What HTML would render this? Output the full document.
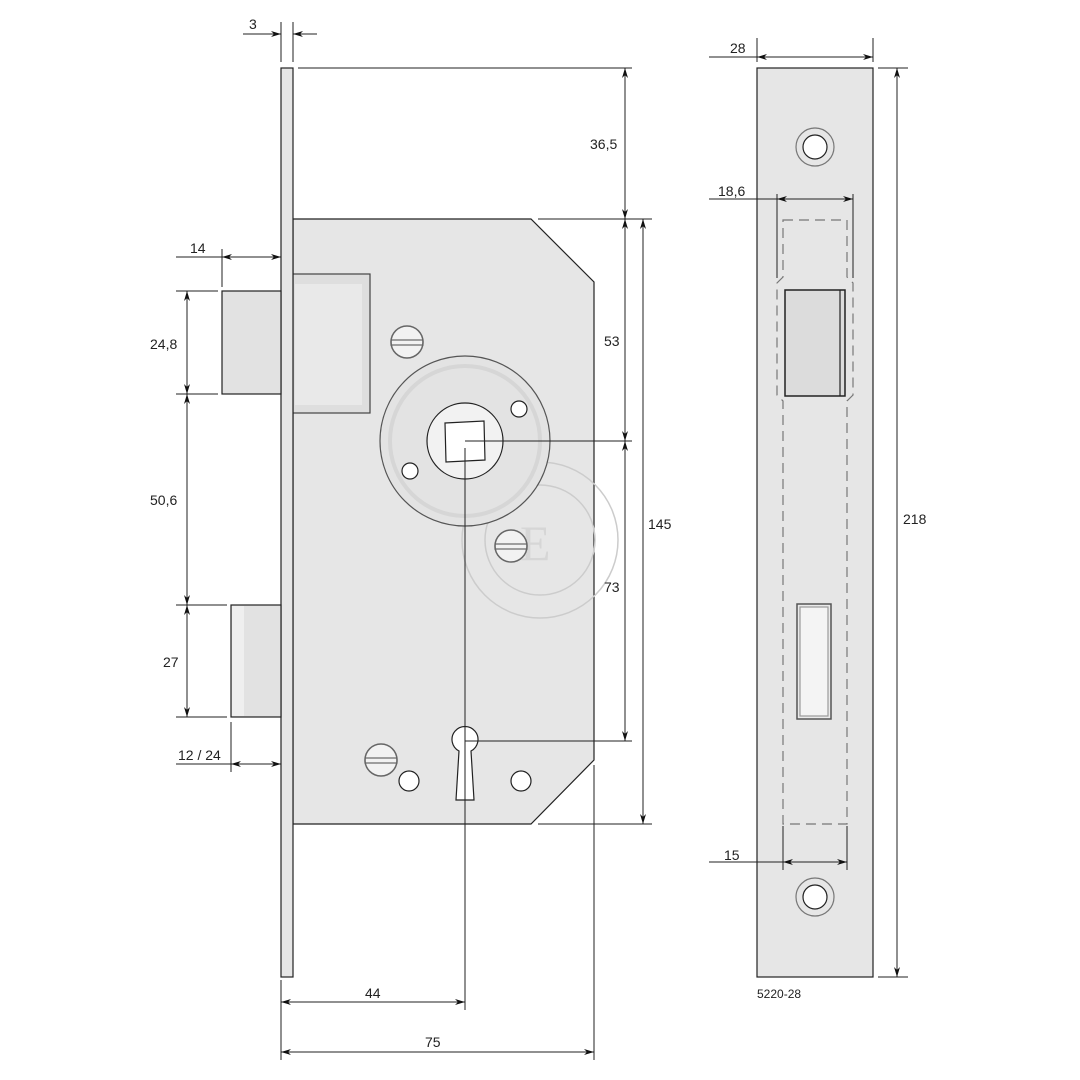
<!DOCTYPE html>
<html><head><style>html,body{margin:0;padding:0;background:#fff}svg{display:block}text{font-family:"Liberation Sans",sans-serif;font-size:14px;fill:#222}</style></head>
<body>
<svg width="1080" height="1080" viewBox="0 0 1080 1080" xmlns="http://www.w3.org/2000/svg">
<defs>
<marker id="a" viewBox="0 0 10 6" refX="10" refY="3" markerWidth="10" markerHeight="6" markerUnits="userSpaceOnUse" orient="auto-start-reverse"><path d="M0,0 L10,3 L0,6 L3,3 z" fill="#111"/></marker>
</defs>
<g stroke="#222" stroke-width="1.2" fill="none">
<!-- body -->
<polygon points="293,219 531,219 594,282 594,760 531,824 293,824" fill="#e6e6e6"/>
<rect x="293" y="274" width="77" height="139" fill="#dedede" stroke="#444"/>
<rect x="295" y="284" width="67" height="121" fill="#e9e9e9" stroke="none"/>
<!-- faceplate -->
<rect x="281" y="68" width="12" height="909" fill="#e6e6e6"/>
<!-- bolts -->
<rect x="222" y="291" width="59" height="103" fill="#e2e2e2"/>
<rect x="231" y="605" width="50" height="112" fill="#e2e2e2"/>
<rect x="232" y="606" width="12" height="110" fill="#efefef" stroke="none"/>
<!-- watermark -->
<g stroke="#ccc" stroke-width="1.5"><circle cx="540" cy="540" r="78"/><circle cx="540" cy="540" r="55"/></g>
<text x="520" y="560" style="font-size:50px;fill:#d6d6d6;font-family:'Liberation Serif',serif" stroke="none">E</text>
<!-- rosette -->
<circle cx="465" cy="441" r="85" fill="#e3e3e3" stroke="#555"/>
<circle cx="465" cy="441" r="75" fill="none" stroke="#d6d6d6" stroke-width="4"/>
<circle cx="465" cy="441" r="38" fill="#f2f2f2"/>
<polygon points="445,423 484,421 485,460 446,462" fill="#fff"/>
<circle cx="519" cy="409" r="8" fill="#fff"/>
<circle cx="410" cy="471" r="8" fill="#fff"/>
<!-- screws -->
<g fill="#f2f2f2" stroke="#666" stroke-width="1.5">
<circle cx="407" cy="342" r="16"/><circle cx="381" cy="760" r="16"/><circle cx="511" cy="546" r="16"/>
</g>
<g stroke="#666"><rect x="391" y="340" width="32" height="5" fill="none"/><rect x="365" y="758" width="32" height="5"/><rect x="495" y="544" width="32" height="5"/></g>
<circle cx="409" cy="781" r="10" fill="#fff"/>
<circle cx="521" cy="781" r="10" fill="#fff"/>
<!-- keyhole -->
<path d="M459,751 A13,13 0 1 1 471,751 L474,800 L456,800 Z" fill="#fff"/>
<!-- right plate -->
<rect x="757" y="68" width="116" height="909" fill="#e6e6e6"/>
<circle cx="815" cy="147" r="19" fill="#e6e6e6" stroke="#777"/><circle cx="815" cy="147" r="12" fill="#fff"/>
<circle cx="815" cy="897" r="19" fill="#e6e6e6" stroke="#777"/><circle cx="815" cy="897" r="12" fill="#fff"/>
<path d="M783,220 L847,220 L847,277 L853,283 L853,395 L847,401 L847,824 L783,824 L783,401 L777,395 L777,283 L783,277 Z" stroke="#777" stroke-dasharray="10,6"/>
<rect x="785" y="290" width="60" height="106" fill="#dcdcdc" stroke-width="1.5"/>
<line x1="840" y1="290" x2="840" y2="396"/>
<rect x="797" y="604" width="34" height="115" fill="#eaeaea" stroke="#555" stroke-width="1.5"/>
<rect x="800" y="607" width="28" height="109" fill="#f4f4f4" stroke="#999"/>
<!-- dimension & leader lines -->
<g stroke-width="1">
<line x1="281" y1="22" x2="281" y2="62"/><line x1="293" y1="22" x2="293" y2="62"/>
<line x1="243" y1="34" x2="281" y2="34" marker-end="url(#a)"/><line x1="317" y1="34" x2="293" y2="34" marker-end="url(#a)"/>
<line x1="298" y1="68" x2="632" y2="68"/>
<line x1="538" y1="219" x2="652" y2="219"/>
<line x1="625" y1="68" x2="625" y2="219" marker-start="url(#a)" marker-end="url(#a)"/>
<line x1="625" y1="219" x2="625" y2="441" marker-start="url(#a)" marker-end="url(#a)"/>
<line x1="625" y1="441" x2="625" y2="741" marker-start="url(#a)" marker-end="url(#a)"/>
<line x1="643" y1="219" x2="643" y2="824" marker-start="url(#a)" marker-end="url(#a)"/>
<line x1="465" y1="441" x2="632" y2="441"/>
<line x1="465" y1="741" x2="632" y2="741"/>
<line x1="538" y1="824" x2="652" y2="824"/>
<line x1="465" y1="448" x2="465" y2="1010"/>
<line x1="281" y1="980" x2="281" y2="1060"/>
<line x1="594" y1="765" x2="594" y2="1060"/>
<line x1="281" y1="1002" x2="465" y2="1002" marker-start="url(#a)" marker-end="url(#a)"/>
<line x1="281" y1="1052" x2="594" y2="1052" marker-start="url(#a)" marker-end="url(#a)"/>
<line x1="176" y1="257" x2="222" y2="257"/><line x1="222" y1="249" x2="222" y2="287"/>
<line x1="222" y1="257" x2="281" y2="257" marker-start="url(#a)" marker-end="url(#a)"/>
<line x1="176" y1="291" x2="218" y2="291"/><line x1="176" y1="394" x2="218" y2="394"/>
<line x1="176" y1="605" x2="227" y2="605"/><line x1="176" y1="717" x2="227" y2="717"/>
<line x1="187" y1="291" x2="187" y2="394" marker-start="url(#a)" marker-end="url(#a)"/>
<line x1="187" y1="394" x2="187" y2="605" marker-start="url(#a)" marker-end="url(#a)"/>
<line x1="187" y1="605" x2="187" y2="717" marker-start="url(#a)" marker-end="url(#a)"/>
<line x1="176" y1="764" x2="231" y2="764"/><line x1="231" y1="722" x2="231" y2="772"/>
<line x1="231" y1="764" x2="281" y2="764" marker-start="url(#a)" marker-end="url(#a)"/>
<line x1="757" y1="38" x2="757" y2="62"/><line x1="873" y1="38" x2="873" y2="62"/>
<line x1="709" y1="57" x2="757" y2="57"/>
<line x1="757" y1="57" x2="873" y2="57" marker-start="url(#a)" marker-end="url(#a)"/>
<line x1="878" y1="68" x2="908" y2="68"/><line x1="878" y1="977" x2="908" y2="977"/>
<line x1="897" y1="68" x2="897" y2="977" marker-start="url(#a)" marker-end="url(#a)"/>
<line x1="709" y1="199" x2="777" y2="199"/>
<line x1="777" y1="194" x2="777" y2="278"/><line x1="853" y1="194" x2="853" y2="278"/>
<line x1="777" y1="199" x2="853" y2="199" marker-start="url(#a)" marker-end="url(#a)"/>
<line x1="709" y1="862" x2="783" y2="862"/>
<line x1="783" y1="826" x2="783" y2="870"/><line x1="847" y1="826" x2="847" y2="870"/>
<line x1="783" y1="862" x2="847" y2="862" marker-start="url(#a)" marker-end="url(#a)"/>
</g>
</g>
<g stroke="none">
<text x="249" y="29">3</text>
<text x="590" y="149">36,5</text>
<text x="604" y="346">53</text>
<text x="604" y="592">73</text>
<text x="648" y="529">145</text>
<text x="190" y="253">14</text>
<text x="150" y="349">24,8</text>
<text x="150" y="505">50,6</text>
<text x="163" y="667">27</text>
<text x="178" y="760">12 / 24</text>
<text x="365" y="998">44</text>
<text x="425" y="1047">75</text>
<text x="730" y="53">28</text>
<text x="903" y="524">218</text>
<text x="718" y="196">18,6</text>
<text x="724" y="860">15</text>
<text x="757" y="998" style="font-size:12px">5220-28</text>
</g>
</svg>
</body></html>
